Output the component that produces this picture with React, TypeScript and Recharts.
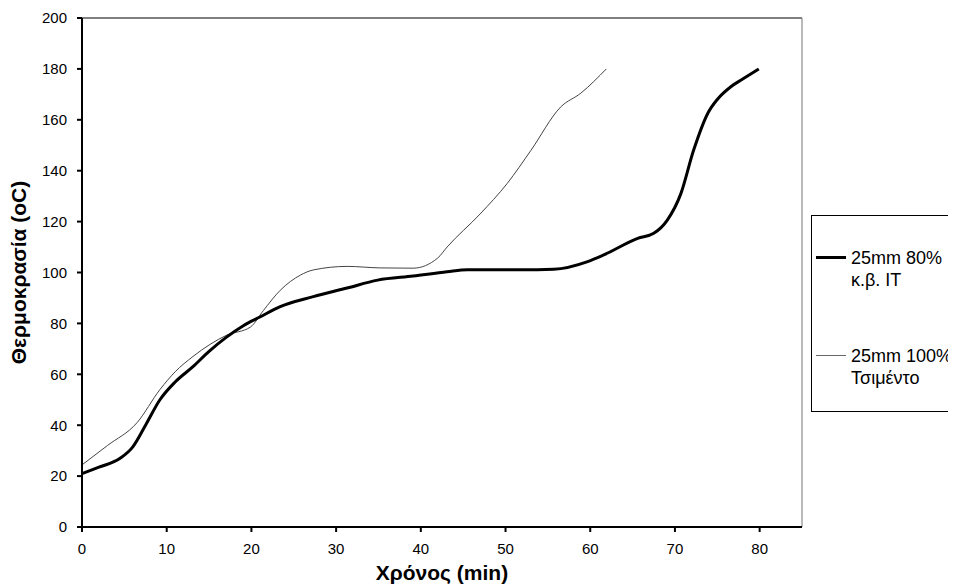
import React from "react";
import { LineChart, Line, XAxis, YAxis, ReferenceLine } from "recharts";

const thickX = [0, 2, 4.5, 6, 7.5, 9.2, 11, 13.1, 15, 17.1, 19, 21, 23.4, 27.3, 31.3, 34.9, 39.1, 43.1, 45.5, 51.8, 55.7, 59.7, 61.6, 65.6, 67.5, 69.1, 70.7, 72.2, 73.9, 75, 76.6, 78, 79.9];
const thickY = [21, 23.5, 27, 31.5, 40, 50, 57, 63, 69, 74.7, 79, 82.5, 86.6, 90.5, 93.9, 97, 98.6, 100.3, 101.1, 101.1, 101.3, 104.3, 106.9, 113.4, 115.4, 120.6, 131, 148, 162.7, 168, 173, 176, 180];
const thinX = [0, 3, 6.5, 9.2, 11, 13.1, 17.1, 19.9, 21.4, 23.4, 25.8, 27.3, 31.3, 35.2, 39.1, 42, 43.1, 47, 50.2, 53, 56.5, 58.9, 61.9];
const thinY = [24.4, 32, 41, 54, 61, 67, 75.4, 78.6, 85, 93, 99, 101, 102.4, 101.8, 101.7, 105.7, 110, 123, 135, 148, 165, 170.5, 180];
const xTicks = [0, 10, 20, 30, 40, 50, 60, 70, 80];
const yTicks = [0, 20, 40, 60, 80, 100, 120, 140, 160, 180, 200];
const seriesNames = ["25mm 80%\nκ.β. IT", "25mm 100%\nΤσιμέντο"];

const thickData = thickX.map((x, i) => ({ x, y: thickY[i] }));
const thinData = thinX.map((x, i) => ({ x, y: thinY[i] }));

const FONT = "'Liberation Sans', Arial, sans-serif";

export default function App() {
  return (
    <div style={{ position: "relative", width: 948, height: 580, overflow: "hidden", fontFamily: FONT }}>
      <LineChart width={948} height={580} margin={{ top: 10, right: 154, left: 0, bottom: 0 }}>
        <XAxis
          type="number"
          dataKey="x"
          domain={[0, 85]}
          ticks={xTicks}
          allowDuplicatedCategory={false}
          height={61}
          axisLine={{ stroke: "#000", strokeWidth: 2 }}
          tickLine={{ stroke: "#000", strokeWidth: 2 }}
          tickSize={5}
          tickMargin={11}
          tick={{ fill: "#000", fontSize: 15, fontFamily: FONT }}
          label={{
            content: (props: any) => {
              const vb = props.viewBox;
              return (
                <text x={vb.x + vb.width / 2} y={572} textAnchor="middle" fontSize={21} fontWeight="bold" fontFamily={FONT} fill="#000">
                  Χρόνος (min)
                </text>
              );
            },
          }}
        />
        <YAxis
          type="number"
          dataKey="y"
          domain={[0, 200]}
          ticks={yTicks}
          width={74}
          axisLine={{ stroke: "#000", strokeWidth: 2 }}
          tickLine={{ stroke: "#000", strokeWidth: 2 }}
          tickSize={5}
          tickMargin={10}
          tick={{ fill: "#000", fontSize: 15, fontFamily: FONT }}
          label={{
            content: (props: any) => {
              const vb = props.viewBox;
              const cx = 18;
              const cy = vb.y + vb.height / 2;
              return (
                <text x={cx} y={cy} transform={`rotate(-90, ${cx}, ${cy})`} textAnchor="middle" fontSize={21} fontWeight="bold" fontFamily={FONT} fill="#000">
                  Θερμοκρασία (oC)
                </text>
              );
            },
          }}
        />
        <ReferenceLine y={200} stroke="#000" strokeWidth={1} />
        <ReferenceLine x={85} stroke="#777" strokeWidth={1} />
        <Line data={thinData} dataKey="y" type="monotone" stroke="#444" strokeWidth={1} dot={false} isAnimationActive={false} name={seriesNames[1]} />
        <Line data={thickData} dataKey="y" type="monotone" stroke="#000" strokeWidth={3} dot={false} isAnimationActive={false} name={seriesNames[0]} />
      </LineChart>
      <div
        style={{
          position: "absolute",
          left: 803,
          top: 207,
          width: 170,
          height: 197,
          border: "1px solid #000",
          boxSizing: "border-box",
          fontSize: 18,
          color: "#000",
        }}
      >
        {seriesNames.map((name, i) => {
          const lines = name.split("\n");
          return (
            <div key={i} style={{ position: "absolute", left: 4, top: i === 0 ? 31 : 129, display: "flex", alignItems: "flex-start" }}>
              <div style={{ width: 30, height: 0, borderTop: i === 0 ? "3px solid #000" : "1px solid #666", marginTop: i === 0 ? 9 : 10 }} />
              <div style={{ marginLeft: 5, lineHeight: "22px", whiteSpace: "nowrap" }}>
                {lines.map((l, j) => (
                  <div key={j}>{l}</div>
                ))}
              </div>
            </div>
          );
        })}
      </div>
    </div>
  );
}
